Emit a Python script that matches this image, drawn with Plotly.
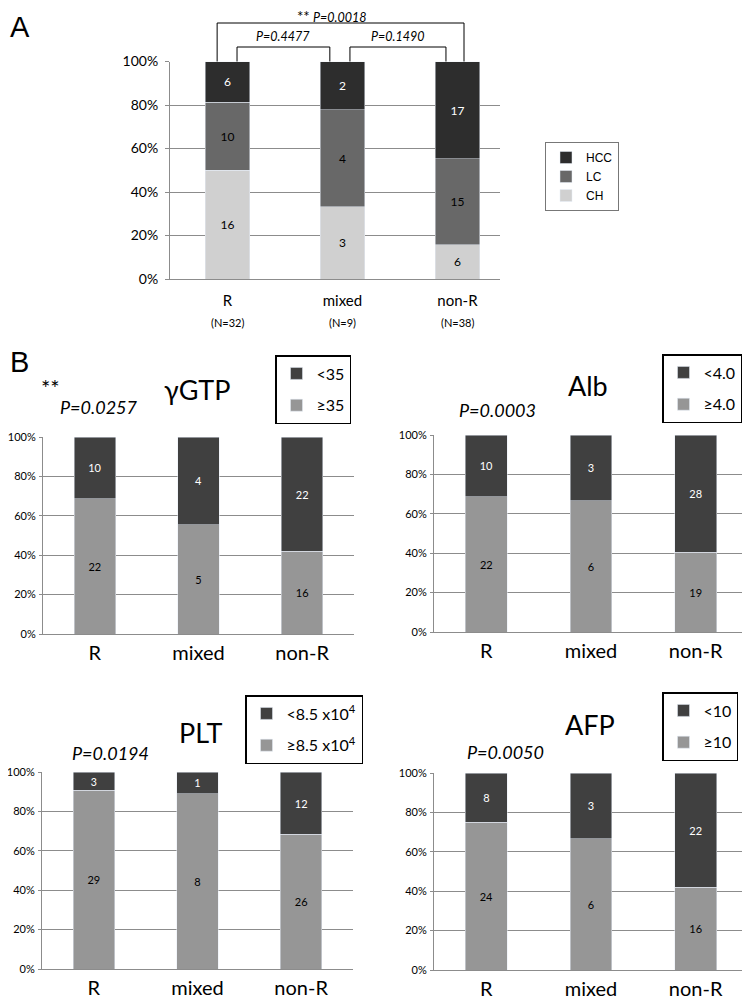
import plotly.graph_objects as go

# categories and counts
cats = ["R", "mixed", "non-R"]
n_labels = ["(N=32)", "(N=9)", "(N=38)"]

# panel A: disease stage
ch = [16, 3, 6]
lc = [10, 4, 15]
hcc = [6, 2, 17]

# panel B: lab values (low / high groups)
ggtp_low = [10, 4, 22]
ggtp_high = [22, 5, 16]
alb_low = [10, 3, 28]
alb_high = [22, 6, 19]
plt_low = [3, 1, 12]
plt_high = [29, 8, 26]
afp_low = [8, 3, 22]
afp_high = [24, 6, 16]

b_titles = ["γGTP", "Alb", "PLT", "AFP"]
b_low_names = ["<35", "<4.0", "<8.5 x10<sup>4</sup>", "<10"]
b_high_names = ["≥35", "≥4.0", "≥8.5 x10<sup>4</sup>", "≥10"]
b_pvals = ["P=0.0257", "P=0.0003", "P=0.0194", "P=0.0050"]

FONT = "Lato, 'Open Sans', sans-serif"
ARIAL = "'Liberation Sans', Arial, sans-serif"
GRID = "#8c8c8c"
DARK_B = "#404040"
LIGHT_B = "#969696"

# the page body has an 8px margin, so the figure is a bit smaller and
# all positions below are given in window pixels
OFF = 8
W, H = 750 - OFF, 1000 - OFF


def px(x):
    return (x - OFF) / W


def py(y):
    return 1 - (y - OFF) / H


fig = go.Figure()

# ---- panel A ----
for name, vals, col, tcol in [("CH", ch, "#d0d0d0", "black"),
                              ("LC", lc, "#686868", "black"),
                              ("HCC", hcc, "#2d2d2d", "white")]:
    fig.add_trace(go.Bar(x=cats, y=vals, name=name, marker_color=col,
                         width=0.39, text=vals, textposition="inside",
                         insidetextanchor="middle", textangle=0,
                         textfont=dict(family=FONT, size=12, color=tcol),
                         xaxis="x", yaxis="y", legend="legend"))

# ---- panel B ----
b_data = [(ggtp_low, ggtp_high), (alb_low, alb_high),
          (plt_low, plt_high), (afp_low, afp_high)]
for i, (low, high) in enumerate(b_data):
    k = str(i + 2)
    fig.add_trace(go.Bar(x=cats, y=high, name=b_high_names[i], marker_color=LIGHT_B,
                         width=0.4, text=high, textposition="inside",
                         insidetextanchor="middle", textangle=0,
                         textfont=dict(family=FONT, size=11, color="black"),
                         xaxis="x" + k, yaxis="y" + k, legend="legend" + k,
                         legendgroup="h" + k, legendrank=2))
    fig.add_trace(go.Bar(x=cats, y=low, name=b_low_names[i], marker_color=DARK_B,
                         width=0.4, text=low, textposition="inside",
                         insidetextanchor="middle", textangle=0,
                         textfont=dict(family=FONT, size=11, color="white"),
                         xaxis="x" + k, yaxis="y" + k, legend="legend" + k,
                         legendgroup="l" + k, legendrank=1))

layout = dict(
    width=W, height=H, margin=dict(l=0, r=0, t=0, b=0, autoexpand=False),
    paper_bgcolor="white", plot_bgcolor="white",
    barmode="stack", barnorm="fraction",
    font=dict(family=FONT, color="black"),
    legend=dict(x=px(545), y=py(142), xanchor="left", yanchor="top",
                bordercolor="#777", borderwidth=1, traceorder="reversed",
                font=dict(family=ARIAL, size=12), itemwidth=30,
                tracegroupgap=0),
)

# axis domains in window pixels: (x0, x1, ytop, ybottom)
doms = [(170, 500, 61.5, 279), (43, 354, 437, 634), (434, 748, 435, 632),
        (42, 353, 772, 969), (434, 748, 773, 970)]
for i, (x0, x1, yt, yb) in enumerate(doms):
    s = "" if i == 0 else str(i + 1)
    big = i == 0
    layout["xaxis" + s] = dict(
        domain=[px(x0), min(px(x1), 1)], anchor="y" + s, automargin=False,
        range=[-0.5, 2.37] if big else [-0.5, 2.5],
        showline=True, linecolor=GRID, ticks="",
        tickfont=dict(family=FONT, size=15 if big else 20),
        ticklabelstandoff=8 if big else 1,
        showgrid=False, fixedrange=True)
    layout["yaxis" + s] = dict(
        domain=[py(yb), py(yt)], anchor="x" + s, automargin=False,
        range=[0, 1], dtick=0.2,
        tickformat=".0%", showline=True, linecolor=GRID,
        showgrid=True, gridcolor=GRID, gridwidth=1,
        ticks="outside", ticklen=4 if big else 3, tickcolor=GRID,
        tickfont=dict(family=FONT, size=14 if big else 11),
        ticklabelstandoff=4 if big else 1, zeroline=False)

# legends for panel B
leg_pos = [(275, 355), (662, 354), (245, 695), (662, 692)]
for i, (lx, ly) in enumerate(leg_pos):
    layout["legend" + str(i + 2)] = dict(
        x=px(lx), y=py(ly), xanchor="left", yanchor="top",
        bordercolor="black", borderwidth=1.5, traceorder="grouped",
        tracegroupgap=8, font=dict(family=FONT, size=16), itemwidth=30)

fig.update_layout(**layout)

ann = []
# panel letters
ann.append(dict(text="A", x=px(8), y=py(9), xanchor="left", yanchor="top",
                font=dict(family=ARIAL, size=29)))
ann.append(dict(text="B", x=px(8), y=py(362), xanchor="left", yanchor="middle",
                font=dict(family=ARIAL, size=29)))

# N labels under panel A
for c, lab in zip(cats, n_labels):
    ann.append(dict(text=lab, x=c, xref="x", y=py(322), yref="paper",
                    yanchor="middle", font=dict(family=FONT, size=11)))

# significance brackets in panel A (category index +/- offset)
brackets = [(0 - 0.09, 2 + 0.057, 23, "<span style='font-size:15px'>**</span> <i>P=0.0018</i>"),
            (0 + 0.083, 1 - 0.11, 47, "<i>P=0.4477</i>"),
            (1 + 0.065, 2 - 0.10, 47, "<i>P=0.1490</i>")]
shapes = []
for xa, xb, ytop, label in brackets:
    shapes.append(dict(type="path", xref="x", yref="paper",
                       path=f"M {xa},{py(61.5)} L {xa},{py(ytop)} L {xb},{py(ytop)} L {xb},{py(61.5)}",
                       line=dict(color="black", width=1)))
    ann.append(dict(text=label, x=(xa + xb) / 2 - (0.08 if ytop < 30 else 0),
                    xref="x", y=py(max(ytop - 10, 16)),
                    yref="paper", yanchor="middle", showarrow=False,
                    font=dict(family=FONT, size=12.5)))

# panel B titles and p values
title_pos = [(197, 390), (588, 385), (201, 732), (590, 724)]
p_pos = [(58, 407), (457, 410), (70, 753), (465, 752)]
for i in range(4):
    tx, ty = title_pos[i]
    ann.append(dict(text=b_titles[i], x=px(tx), y=py(ty), xanchor="center",
                    yanchor="middle", font=dict(family=FONT, size=27)))
    qx, qy = p_pos[i]
    ann.append(dict(text="<i>" + b_pvals[i] + "</i>", x=px(qx), y=py(qy),
                    xanchor="left", yanchor="middle", font=dict(family=FONT, size=18)))
ann.append(dict(text="**", x=px(39), y=py(387), xanchor="left", yanchor="middle",
                font=dict(family=FONT, size=22)))

for a in ann:
    a.setdefault("xref", "paper")
    a.setdefault("yref", "paper")
    a["showarrow"] = False

fig.update_layout(annotations=ann, shapes=shapes)
fig.write_html("out.html")
